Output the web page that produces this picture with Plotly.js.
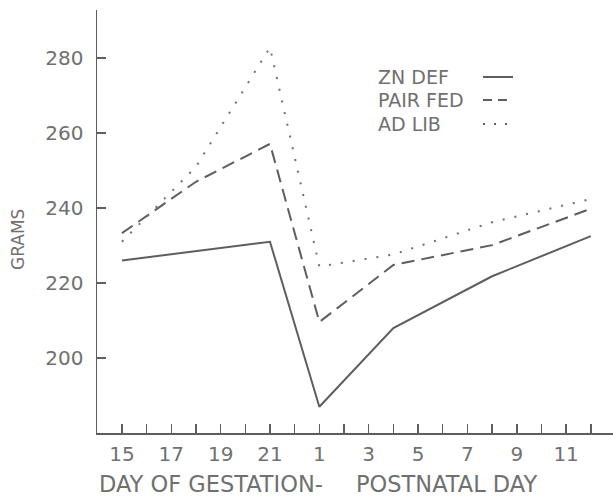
<!DOCTYPE html>
<html>
<head>
<meta charset="utf-8">
<script src="https://cdn.plot.ly/plotly-3.0.1.min.js"></script>
<style>html,body{margin:0;padding:0;background:#fff;}#chart{width:613px;height:497px;}</style>
</head>
<body>
<div id="chart"></div>
<script>
// Axis day sequence: gestation days 15-21, then birth (0) and postnatal days 1-12
const axisDays = ["15","16","17","18","19","20","21","0","1","2","3","4","5","6","7","8","9","10","11","12"];
const labeledDays = ["15","17","19","21","1","3","5","7","9","11"];
// Measurement days
const pointDays = ["15","18","21","1","4","8","12"];
const znDef   = [226, 228.5, 231, 187, 208, 221.8, 232.5];
const pairFed = [233.3, 247, 257.1, 209.6, 224.8, 230.1, 239.8];
const adLib   = [231, 251, 282.8, 224.4, 227.6, 236.2, 242.4];
const seriesNames = ["ZN DEF", "PAIR FED", "AD LIB"];

const xPos = pointDays.map(d => axisDays.indexOf(d));
const tickVals = axisDays.map((d, i) => i);
const tickText = axisDays.map((d, i) => labeledDays.includes(d) && (i < 7 || i >= 8) ? d : "");

const lineCol = "#5e5e5e";
const textCol = "#707070";
const font = "DejaVu Sans, Liberation Sans, sans-serif";

const traces = [
  {x: xPos, y: znDef, name: seriesNames[0], mode: "lines", line: {color: lineCol, width: 2, dash: "solid"}},
  {x: xPos, y: pairFed, name: seriesNames[1], mode: "lines", line: {color: lineCol, width: 2, dash: "13px,7px"}},
  {x: xPos, y: adLib, name: seriesNames[2], mode: "lines", line: {color: "#707070", width: 2, dash: "2px,10px"}}
];

const W = 516, H = 423, L = 97, T = 10;
const px = v => (v - L) / W;
const py = v => (T + H - v) / H;

const legendRows = [77, 100, 124];
const legendDash = ["solid", "9px,6px", "2px,9px"];
const annotations = seriesNames.map((n, i) => ({
  xref: "paper", yref: "paper", x: px(376), y: py(legendRows[i]),
  xanchor: "left", yanchor: "middle", text: n, showarrow: false,
  font: {family: font, size: 19, color: textCol}
}));
annotations.push({xref: "paper", yref: "paper", x: px(97), y: py(484), xanchor: "left", yanchor: "middle",
  text: "DAY OF GESTATION-", showarrow: false, font: {family: font, size: 22.5, color: textCol}});
annotations.push({xref: "paper", yref: "paper", x: px(354), y: py(484), xanchor: "left", yanchor: "middle",
  text: "POSTNATAL DAY", showarrow: false, font: {family: font, size: 22.5, color: textCol}});
annotations.push({xref: "paper", yref: "paper", x: px(18), y: py(240), xanchor: "center", yanchor: "middle",
  text: "GRAMS", textangle: -90, showarrow: false, font: {family: font, size: 17, color: textCol}});

const shapes = seriesNames.map((n, i) => ({
  type: "line", xref: "paper", yref: "paper",
  x0: px(483), x1: px(513), y0: py(legendRows[i]), y1: py(legendRows[i]),
  line: {color: lineCol, width: 2, dash: legendDash[i]}
}));

const layout = {
  width: 613, height: 497,
  margin: {l: L, r: 0, t: T, b: 497 - T - H},
  paper_bgcolor: "#fff", plot_bgcolor: "#fff",
  showlegend: false,
  font: {family: font, color: textCol},
  xaxis: {
    range: [-1.01, 19.9], showgrid: false, zeroline: false,
    showline: true, linecolor: lineCol, linewidth: 1.5,
    tickmode: "array", tickvals: tickVals, ticktext: tickText,
    ticks: "inside", ticklen: 9, tickwidth: 1.5, tickcolor: lineCol,
    ticklabelstandoff: 2,
    tickfont: {family: font, size: 20, color: textCol}
  },
  yaxis: {
    range: [180, 292.8], showgrid: false, zeroline: false,
    showline: true, linecolor: lineCol, linewidth: 1.5,
    tickmode: "array", tickvals: [200, 220, 240, 260, 280],
    ticks: "inside", ticklen: 9, tickwidth: 1.5, tickcolor: lineCol,
    ticklabelstandoff: 8,
    tickfont: {family: font, size: 20, color: textCol}
  },
  annotations: annotations,
  shapes: shapes
};

Plotly.newPlot("chart", traces, layout, {displayModeBar: false, staticPlot: true});
</script>
</body>
</html>
